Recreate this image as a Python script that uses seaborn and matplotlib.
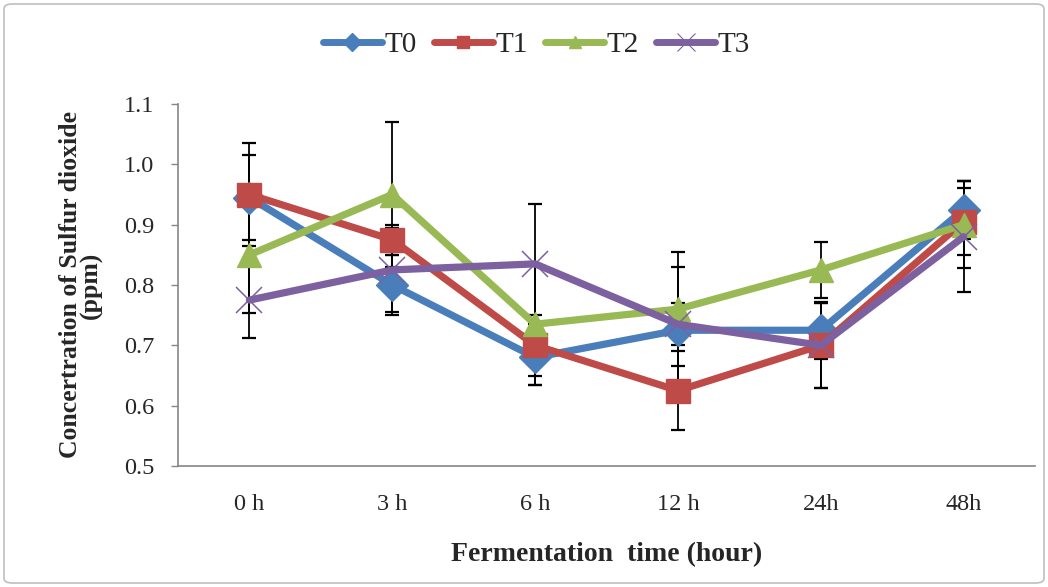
import numpy as np
import pandas as pd
import matplotlib
matplotlib.use("Agg")
import matplotlib.pyplot as plt
import seaborn as sns
from matplotlib.patches import FancyBboxPatch
from matplotlib.lines import Line2D

categories = ["0 h", "3 h", "6 h", "12 h", "24h", "48h"]
series_names = ["T0", "T1", "T2", "T3"]
t0 = [0.945, 0.800, 0.680, 0.725, 0.725, 0.925]
t1 = [0.950, 0.875, 0.700, 0.625, 0.700, 0.905]
t2 = [0.850, 0.950, 0.735, 0.760, 0.825, 0.900]
t3 = [0.775, 0.825, 0.835, 0.735, 0.700, 0.880]
t0_err = [0.070, 0.050, 0.045, 0.105, 0.047, 0.048]
t1_err = [0.086, 0.025, 0.050, 0.065, 0.070, 0.055]
t2_err = [0.097, 0.120, 0.100, 0.095, 0.047, 0.072]
t3_err = [0.063, 0.070, 0.100, 0.035, 0.070, 0.092]

colors = {"T0": "#4A7EBB", "T1": "#BE4B48", "T2": "#98B954", "T3": "#7D60A0"}
markers = {"T0": "D", "T1": "s", "T2": "^", "T3": "x"}

values = {"T0": t0, "T1": t1, "T2": t2, "T3": t3}
errors = {"T0": t0_err, "T1": t1_err, "T2": t2_err, "T3": t3_err}

pos = np.arange(len(categories))
rows = []
for s in series_names:
    for i, v in enumerate(values[s]):
        rows.append({"pos": pos[i], "val": v, "series": s})
df = pd.DataFrame(rows)

sns.set_style("white")
plt.rcParams["font.family"] = ["Liberation Serif", "DejaVu Serif"]

fig = plt.figure(figsize=(10.48, 5.87), dpi=100)
ax = fig.add_axes([178 / 1048, 1 - 466 / 587, (1035 - 178) / 1048, (466 - 104) / 587])

# error bars (beneath lines)
for s in series_names:
    ax.errorbar(pos, values[s], yerr=errors[s], fmt="none", ecolor="black",
                elinewidth=1.3, capsize=5, capthick=1.6, zorder=1)

for s in series_names:
    sub = df[df["series"] == s]
    is_x = markers[s] == "x"
    size = {"D": 16, "s": 17, "^": 17, "x": 19}[markers[s]]
    sns.lineplot(data=sub, x="pos", y="val", color=colors[s], linewidth=5.2,
                 marker=markers[s], markersize=size,
                 markeredgecolor=colors[s], markerfacecolor=colors[s],
                 markeredgewidth=1.1 if is_x else 1,
                 ax=ax, legend=False, zorder=3)

ax.set_xlim(-0.5, len(categories) - 0.5)
ax.set_ylim(0.5, 1.1)
ax.set_yticks([0.5, 0.6, 0.7, 0.8, 0.9, 1.0, 1.1])
ax.set_yticklabels(["0.5", "0.6", "0.7", "0.8", "0.9", "1.0", "1.1"], fontsize=17.5)
ax.set_xticks(pos)
ax.set_xticklabels(categories, fontsize=17.5)
ax.set_xticks(np.arange(-0.5, len(categories)), minor=True)
ax.tick_params(axis="x", which="major", length=0, pad=20)
ax.tick_params(axis="x", which="minor", length=5, width=1, color="#868686", direction="out")
ax.tick_params(axis="y", which="major", length=5, width=1, color="#868686", direction="out", left=True, pad=12)

for sp in ["top", "right"]:
    ax.spines[sp].set_visible(False)
for sp in ["left", "bottom"]:
    ax.spines[sp].set_color("#868686")
    ax.spines[sp].set_linewidth(1.2)

ax.set_xlabel("Fermentation  time (hour)", fontsize=20, fontweight="bold", labelpad=20)
ax.set_ylabel("Concertration of Sulfur dioxide\n(ppm)", fontsize=18.5, fontweight="bold",
              labelpad=15, linespacing=0.9)

handles = []
for s in series_names:
    ms = 13 if markers[s] == "x" else 9
    mew = 0.8 if markers[s] == "x" else 1
    handles.append(Line2D([0], [0], color=colors[s], lw=5, marker=markers[s],
                          markersize=ms, markerfacecolor=colors[s],
                          markeredgecolor=colors[s], markeredgewidth=mew,
                          solid_capstyle="round"))
fig.legend(handles, series_names, loc="center", bbox_to_anchor=(0.512, 1 - 45 / 587),
           ncol=4, frameon=False, fontsize=21, handlelength=2.0, handletextpad=0.1,
           columnspacing=0.6)

border = FancyBboxPatch((4 / 1048, 4 / 587), 1 - 8 / 1048, 1 - 8 / 587,
                        boxstyle="round,pad=0,rounding_size=0.008",
                        transform=fig.transFigure, facecolor="none",
                        edgecolor="#BFBFBF", linewidth=1.2)
fig.patches.append(border)

fig.savefig("out.png", dpi=100)
